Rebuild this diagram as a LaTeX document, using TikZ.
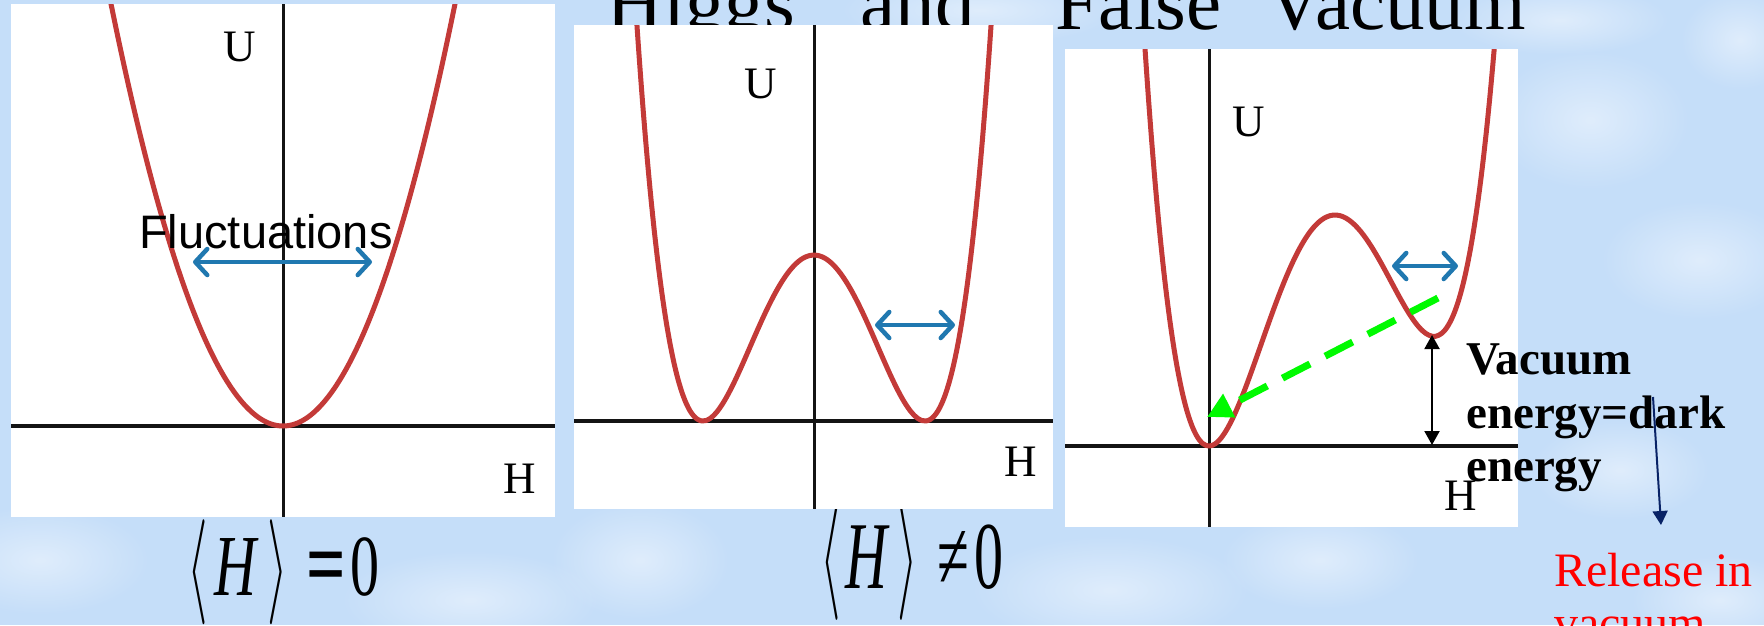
\documentclass[tikz,border=0pt]{standalone}
\usepackage{graphicx}
\usepackage{fontspec}
\setmainfont{Liberation Serif}
\newfontfamily\arialfont{Liberation Sans}
\DeclareFontShape{OMS}{cmsy}{m}{n}{<-> cmsy10}{}
\usetikzlibrary{arrows.meta,fadings}
\tikzfading[name=softblob, inner color=transparent!0, outer color=transparent!100]
\definecolor{bgblue}{RGB}{197,222,249}
\definecolor{potred}{RGB}{195,58,56}
\definecolor{flblue}{RGB}{32,120,176}
\definecolor{navyarrow}{RGB}{8,34,102}
\definecolor{vacgreen}{RGB}{0,250,0}
\definecolor{axisblack}{RGB}{20,20,20}
\definecolor{relred}{RGB}{255,0,0}
\newcommand{\lbrk}{\raisebox{-2pt}{\scalebox{0.75}[1]{\fontsize{70}{70}\selectfont$\langle$}}}
\newcommand{\rbrk}{\raisebox{-2pt}{\scalebox{0.75}[1]{\fontsize{70}{70}\selectfont$\rangle$}}}
\begin{document}
\begin{tikzpicture}[x=1pt,y=-1pt,
  panelbox/.style={fill=white,draw=none},
  potline/.style={potred,line width=5pt,line join=round,line cap=round},
  vaxis/.style={axisblack,line width=3pt},
  haxis/.style={axisblack,line width=4.5pt},
  fluctarrow/.style={flblue,line width=4.5pt,line cap=round,
     >={Straight Barb[length=12pt,width=26pt,line cap=round,line join=round]},<->},
  axlabel/.style={font=\fontsize{45}{50}\selectfont,inner sep=0pt},
  eqn/.style={inner sep=0pt,anchor=base west},
  thinarrow/.style={line width=2pt,-{Triangle[length=14pt,width=15pt]}},
  cloud/.style={white,opacity=0.45,path fading=softblob}
]
% canvas
\path[use as bounding box] (0,0) rectangle (1764,625);
\clip (0,0) rectangle (1764,625);
\fill[bgblue] (0,0) rectangle (1764,625);
% soft cloud texture
\fill[cloud] (40,560) ellipse (110pt and 55pt);
\fill[cloud] (470,600) ellipse (130pt and 50pt);
\fill[cloud] (640,560) ellipse (90pt and 60pt);
\fill[cloud] (1110,590) ellipse (140pt and 55pt);
\fill[cloud] (1320,560) ellipse (100pt and 50pt);
\fill[cloud] (1590,120) ellipse (100pt and 70pt);
\fill[cloud] (1700,260) ellipse (100pt and 60pt);
\fill[cloud] (1620,470) ellipse (90pt and 50pt);
\fill[cloud] (1720,600) ellipse (90pt and 45pt);
\fill[cloud] (980,10) ellipse (140pt and 35pt);
\fill[cloud] (1560,20) ellipse (110pt and 35pt);
\fill[cloud] (1740,40) ellipse (60pt and 50pt);

% title (only its lower part is visible)
\node[inner sep=0pt,anchor=base west,font=\fontsize{79}{80}\selectfont] (title) at (606,29)
  {Higgs\hspace{66pt}and\hspace{80pt}False\hspace{45pt}Vacuum};

% equations
\node[eqn] (eq1) at (190,595) {\scalebox{1}[1.5]{\fontsize{58}{60}\selectfont
  \makebox[15pt]{\lbrk}\hspace{8pt}\makebox[47pt]{\textit{H}}\hspace{10pt}\makebox[16pt]{\rbrk}\hspace{22pt}\makebox[36pt]{\scalebox{1.12}[1]{\fontsize{62}{62}\selectfont\textbf{=}}}\hspace{8pt}\makebox[25pt]{0}}};
\node[eqn] (eq2) at (823,588) {\scalebox{1}[1.65]{\fontsize{58}{60}\selectfont
  \makebox[15pt]{\lbrk}\hspace{7pt}\makebox[45pt]{\textit{H}}\hspace{10pt}\makebox[15pt]{\rbrk}\hspace{22pt}\makebox[33pt]{≠}\hspace{5pt}\makebox[27pt]{0}}};

% ---------- panel 1 ----------
\fill[panelbox] (11,4) rectangle (555,517);
\begin{scope}
  \clip (11,4) rectangle (555,517);
  \draw[vaxis] (283,4) -- (283,517);
  \draw[haxis] (11,426) -- (555,426);
  \draw[potline] plot[smooth,domain=-190:190,samples=77] ({283+\x},{426-142.7*(\x/100)*(\x/100)});
\end{scope}
\node[axlabel] (u1) at (240,47) {U};
\node[axlabel] (h1) at (520,479) {H};
\node[inner sep=0pt,anchor=base west,font=\arialfont\fontsize{47}{50}\selectfont] (fluct) at (139,248) {Fluctuations};
\coordinate (f1a) at (193,262);
\coordinate (f1b) at (372,262);
\draw[fluctarrow] (f1a) -- (f1b);

% ---------- panel 2 ----------
\fill[panelbox] (574,25) rectangle (1053,509);
\begin{scope}
  \clip (574,25) rectangle (1053,509);
  \draw[vaxis] (814,25) -- (814,509);
  \draw[haxis] (574,421) -- (1053,421);
  \draw[potline] plot[smooth,domain=-200:200,samples=101]
    ({814+\x},{421-166*((\x/111)*(\x/111)-1)*((\x/111)*(\x/111)-1)});
\end{scope}
\node[axlabel] (u2) at (761,84) {U};
\node[axlabel] (h2) at (1021,462) {H};
\coordinate (f2a) at (875,325);
\coordinate (f2b) at (955,325);
\draw[fluctarrow] (f2a) -- (f2b);

% ---------- panel 3 ----------
\fill[panelbox] (1065,49) rectangle (1518,527);
\begin{scope}
  \clip (1065,49) rectangle (1518,527);
  \draw[vaxis] (1209,49) -- (1209,527);
  \draw[haxis] (1065,446) -- (1518,446);
  \draw[potline] plot[smooth,domain=-0.8:3.0,samples=120,variable=\s]
    ({1209+100*\s},{446-427.7*\s*\s*(\s*\s/4-1.17*\s+1.4175)});
\end{scope}
\node[axlabel] (u3) at (1249,122) {U};
\node[axlabel] (h3) at (1461,496) {H};
\coordinate (f3a) at (1392,266);
\coordinate (f3b) at (1458,266);
\draw[fluctarrow] (f3a) -- (f3b);

% tunnelling arrow
\coordinate (falsemin) at (1438,298);
\coordinate (truemin) at (1207,417);
\draw[vacgreen,line width=7pt,dash pattern=on 31pt off 17pt,-{Triangle[length=25pt,width=25pt]}] (falsemin) -- (truemin);

% vacuum energy gap
\coordinate (gaptop) at (1432,335);
\coordinate (gapbot) at (1432,445);
\draw[line width=2pt,{Triangle[length=14pt,width=15pt]}-{Triangle[length=14pt,width=15pt]}] (gaptop) -- (gapbot);

\node[anchor=north west,inner sep=0pt,align=left,font=\bfseries\fontsize{47}{53.5}\selectfont] (vac) at (1466,344) {Vacuum\\energy=dark\\energy};

\node[anchor=north west,inner sep=0pt,align=left,text=relred,font=\fontsize{48}{52.5}\selectfont] (rel) at (1554,553) {Release in\\vacuum};

\coordinate (navytop) at (1653,397);
\coordinate (navytip) at (1661,525);
\draw[thinarrow,navyarrow] (navytop) -- (navytip);
\end{tikzpicture}
\end{document}
